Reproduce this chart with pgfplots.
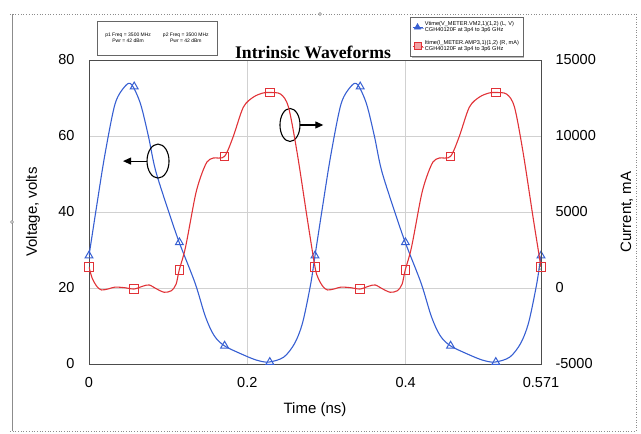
\documentclass[border=0pt]{standalone}
\usepackage{pgfplots}
\pgfplotsset{compat=1.18}
\usepackage{pgfplotstable}
\usepackage{fontspec}
\setmainfont{Liberation Sans}
\newfontfamily\titlefont{Liberation Serif}
\usetikzlibrary{shadows,arrows.meta}
\definecolor{vblue}{RGB}{55,95,210}
\definecolor{ired}{RGB}{225,50,55}

% voltage (left axis), two periods
\pgfplotstableread{
t V
0.000 28.5
0.010 42.0
0.020 55.0
0.033 68.5
0.046 73.2
0.054 73.5
0.065 68.5
0.075 60.0
0.084 51.0
0.100 40.5
0.114 32.0
0.134 21.3
0.147 12.5
0.158 7.5
0.171 4.8
0.195 2.4
0.212 1.0
0.227 0.5
0.246 1.8
0.260 5.5
0.270 11.0
0.280 21.0
0.2855 28.5
0.2955 42.0
0.3055 55.0
0.3185 68.5
0.3315 73.2
0.3395 73.5
0.3505 68.5
0.3605 60.0
0.3695 51.0
0.3855 40.5
0.3995 32.0
0.4195 21.3
0.4325 12.5
0.4435 7.5
0.4565 4.8
0.4805 2.4
0.4975 1.0
0.5125 0.5
0.5315 1.8
0.5455 5.5
0.5555 11.0
0.5655 21.0
0.571 28.5
}\voltage

% current (right axis)
\pgfplotstableread{
t I
0.000 1382
0.004 650
0.010 100
0.016 -130
0.025 -50
0.033 60
0.045 20
0.057 -66
0.068 120
0.076 200
0.085 -50
0.095 -280
0.104 -180
0.110 250
0.114 1184
0.122 2700
0.134 6000
0.141 7300
0.149 8290
0.157 8550
0.171 8650
0.182 9930
0.195 11900
0.208 12570
0.220 12830
0.228 12860
0.242 12760
0.252 11900
0.263 8880
0.276 4470
0.2855 1382
0.2895 650
0.2955 100
0.3015 -130
0.3105 -50
0.3185 60
0.3305 20
0.3425 -66
0.3535 120
0.3615 200
0.3705 -50
0.3805 -280
0.3895 -180
0.3955 250
0.3995 1184
0.4075 2700
0.4195 6000
0.4265 7300
0.4345 8290
0.4425 8550
0.4565 8650
0.4675 9930
0.4805 11900
0.4935 12570
0.5055 12830
0.5135 12860
0.5275 12760
0.5375 11900
0.5485 8880
0.5615 4470
0.571 1382
}\current

\pgfplotstableread{
t V I
0.000 28.5 1382
0.0571 73.0 -66
0.1142 32.0 1184
0.1713 4.8 8650
0.2284 0.5 12860
0.2855 28.5 1382
0.3426 73.0 -66
0.3997 32.0 1184
0.4568 4.8 8650
0.5139 0.5 12860
0.571 28.5 1382
}\markers

\pgfplotsset{
  common/.style={
    at={(0,0)}, anchor=south west, scale only axis,
    width=452pt, height=304pt,
    xmin=0, xmax=0.571,
    tick style={draw=none},
    tick label style={font=\fontsize{14.5}{16}\selectfont,
      /pgf/number format/assume math mode=true},
    label style={font=\fontsize{15}{17}\selectfont},
    axis line style={draw=black!70, line width=0.9pt},
  }
}

\begin{document}
\begin{tikzpicture}[x=1pt,y=1pt]
\path[use as bounding box] (-89,-70) rectangle (552,364);

% outer selection frame
\draw[black!45, dotted, line width=0.7pt] (-79,350) -- (547,350);
\draw[black!45, dotted, line width=0.7pt] (-79,-67) -- (547,-67);
\draw[black!45, line width=0.6pt] (-77,350) -- (-77,-67);
\draw[black!45, dotted, line width=0.6pt] (547,350) -- (547,-67);
\draw[black!50, fill=white] (-77,142) circle (1.5);
\draw[black!50, fill=white] (231,350) circle (1.5);

\begin{axis}[common,
  ymin=0, ymax=80, ytick={0,20,40,60,80},
  xtick={0,0.2,0.4,0.571}, xticklabels={0,0.2,0.4,0.571},
  grid=major, major grid style={draw=black!18, line width=0.6pt},
  yticklabel style={xshift=-11pt},
  xticklabel style={yshift=-10pt},
  xlabel={Time (ns)}, ylabel={Voltage, volts},
  ylabel style={at={(axis description cs:-0.124,0.5)}, anchor=center},
  xlabel style={at={(axis description cs:0.5,-0.151)}, anchor=center},
]
\addplot[vblue, line width=1.1pt, smooth, tension=0.5, mark=none] table[x=t,y=V]{\voltage};
\addplot[vblue, only marks, mark=triangle, mark size=4.5pt, mark options={line width=1pt}] table[x=t,y=V]{\markers};

\draw[line width=1.1pt] (axis cs:0.0872,53.4) ellipse [x radius=11pt, y radius=17pt];
\draw[line width=1.1pt, -{Triangle[length=8pt,width=7pt]}] (axis cs:0.0733,53.4) -- (axis cs:0.043,53.4);
\draw[line width=1.1pt] (axis cs:0.2539,62.9) ellipse [x radius=10pt, y radius=16.5pt];
\draw[line width=1.1pt, -{Triangle[length=8pt,width=7pt]}] (axis cs:0.2666,62.9) -- (axis cs:0.296,62.9);
\node[rotate=-90, font=\fontsize{6}{7}\selectfont, text=black!60, xshift=5pt] at (axis cs:0.571,27) {m3};
\end{axis}

\begin{axis}[common,
  axis x line=none, axis y line*=right,
  ymin=-5000, ymax=15000, ytick={-5000,0,5000,10000,15000},
  scaled y ticks=false,
  yticklabel style={xshift=11pt, /pgf/number format/set thousands separator={}, /pgf/number format/fixed},
  ylabel={Current, mA},
  ylabel style={at={(axis description cs:1.19,0.5)}, anchor=center},
  legend style={at={(axis description cs:0.710,1.141)}, anchor=north west,
    draw=black!60, fill=white,
    drop shadow={shadow xshift=1.5pt, shadow yshift=-1.5pt, fill=black!55},
    font=\fontsize{5.6}{6.4}\selectfont, legend cell align=left,
    inner sep=2pt, row sep=3pt},
  legend image code/.code={\draw[#1, mark repeat=2, mark phase=2] plot coordinates {(0pt,0pt) (5pt,0pt) (10pt,0pt)};},
]
\addlegendimage{vblue, line width=0.8pt, mark=triangle*, mark size=3.5pt, mark options={fill=vblue}}
\addlegendentry[align=left]{Vtime(V\_METER.VM2,1)(1,2) (L, V)\\CGH40120F at 3p4 to 3p6 GHz}
\addlegendimage{ired, line width=0.8pt, mark=square*, mark size=3.5pt, mark options={fill=ired!45, draw=ired}}
\addlegendentry[align=left]{Itime(I\_METER.AMP3,1)(1,2) (R, mA)\\CGH40120F at 3p4 to 3p6 GHz}
\addplot[ired, line width=1.1pt, smooth, tension=0.5, mark=none, forget plot] table[x=t,y=I]{\current};
\addplot[ired, only marks, mark=square, mark size=4.3pt, mark options={line width=1pt}, forget plot] table[x=t,y=I]{\markers};
\end{axis}

% info box and title
\node[draw=black!60, fill=white, drop shadow={shadow xshift=1.5pt, shadow yshift=-1.5pt, fill=black!55},
  minimum width=120pt, minimum height=34pt, inner sep=1pt, font=\fontsize{5}{6}\selectfont] at (68,326)
  {\begin{tabular}{@{}c@{\hspace{12pt}}c@{}}p1 Freq = 3500 MHz & p2 Freq = 3500 MHz\\ Pwr = 42 dBm & Pwr = 42 dBm\end{tabular}};
\node[font=\titlefont\bfseries\fontsize{17.7}{19}\selectfont] at (224,312) {Intrinsic Waveforms};
\end{tikzpicture}
\end{document}
